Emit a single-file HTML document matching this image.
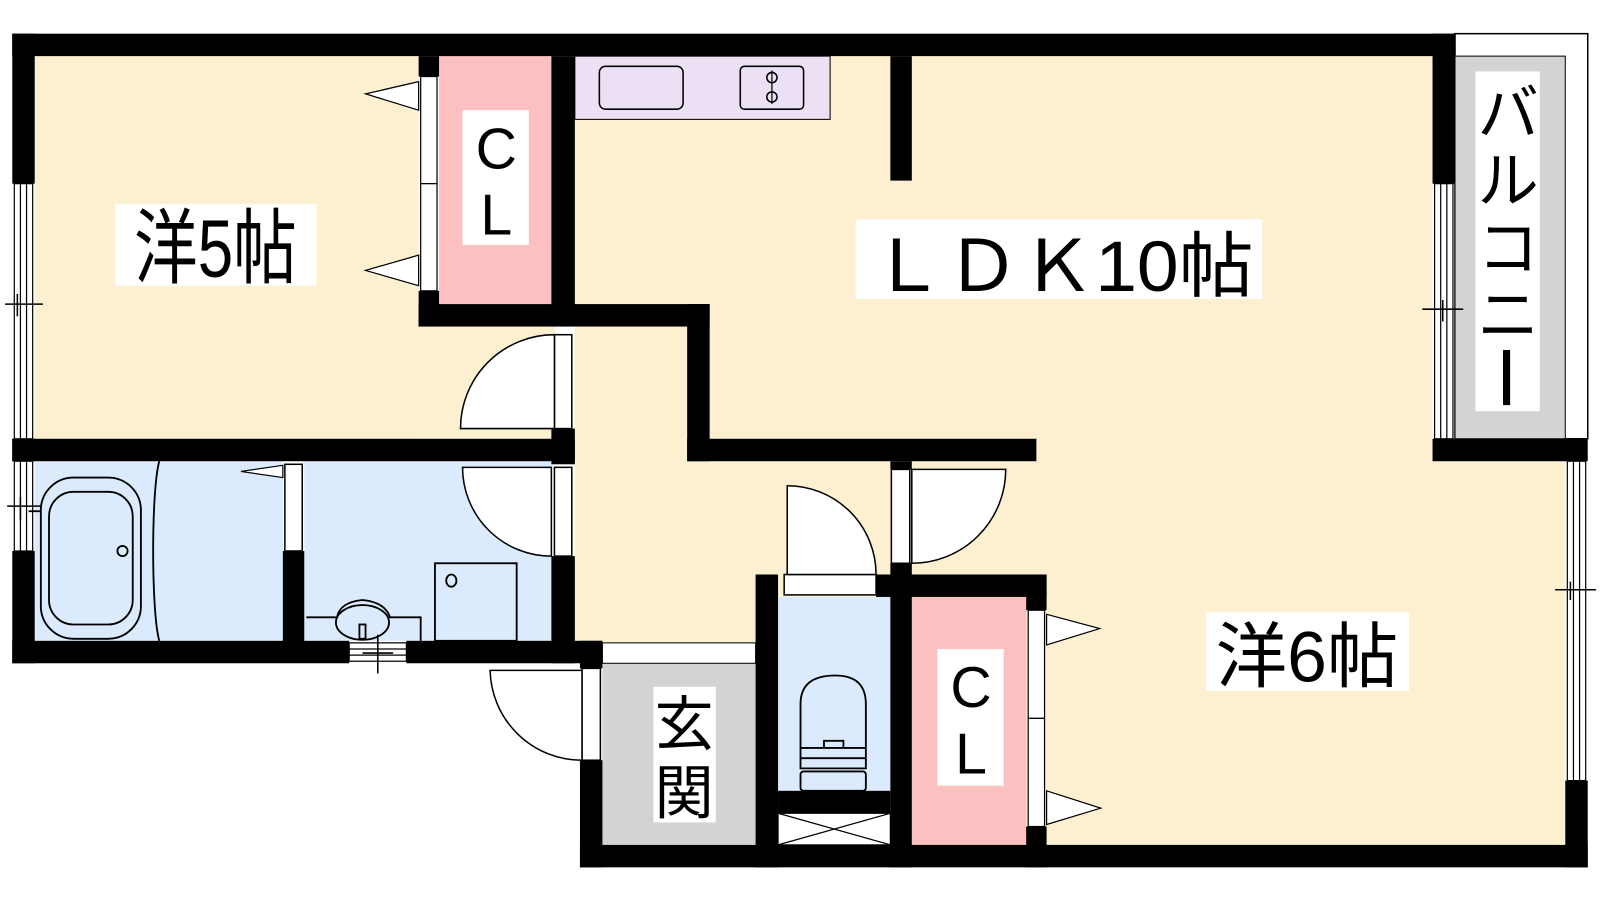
<!DOCTYPE html>
<html><head><meta charset="utf-8"><style>
html,body{margin:0;padding:0;background:#fff;}
svg{display:block;}
text{font-family:"Liberation Sans","Noto Sans CJK JP",sans-serif;fill:#000;}
</style></head><body>
<svg width="1600" height="900" viewBox="0 0 1567 882" preserveAspectRatio="none" xmlns="http://www.w3.org/2000/svg">
<rect width="1567" height="882" fill="#fff"/>
<!-- floors -->
<rect x="34" y="55" width="376" height="375" fill="#fdf0d0"/>
<rect x="34" y="310" width="510" height="120" fill="#fdf0d0"/>
<rect x="563" y="55" width="840" height="397" fill="#fdf0d0"/>
<rect x="563" y="320" width="330" height="310" fill="#fdf0d0"/>
<rect x="893" y="452" width="640" height="376" fill="#fdf0d0"/>
<rect x="430" y="55" width="110" height="243" fill="#fdc0c0"/>
<rect x="893" y="585" width="112" height="243" fill="#fdc0c0"/>
<rect x="34" y="452" width="243" height="176" fill="#dbebfd"/>
<rect x="298" y="452" width="242" height="176" fill="#dbebfd"/>
<rect x="762" y="585" width="110" height="190" fill="#dbebfd"/>
<rect x="590" y="650" width="150" height="178" fill="#d3d3d3"/>
<rect x="590" y="630" width="150" height="20" fill="#fff" stroke="#000" stroke-width="1"/>
<!-- balcony -->
<rect x="1425" y="33" width="130" height="397" fill="#fff" stroke="#000" stroke-width="1.5"/>
<rect x="1425" y="55" width="108" height="375" fill="#d3d3d3" stroke="#000" stroke-width="1"/>
<!-- kitchen -->
<rect x="563" y="55" width="250" height="62" fill="#ece0f5" stroke="#000" stroke-width="1"/>
<rect x="587" y="65" width="82" height="42" rx="6" fill="none" stroke="#000" stroke-width="1.5"/>
<rect x="725" y="65" width="62" height="42" rx="4" fill="none" stroke="#000" stroke-width="1.5"/>
<circle cx="756" cy="76" r="5" fill="none" stroke="#000" stroke-width="1.5"/>
<circle cx="756" cy="95" r="5" fill="none" stroke="#000" stroke-width="1.5"/>
<line x1="756" y1="69" x2="756" y2="102" stroke="#000" stroke-width="1.2"/>
<!-- walls -->
<g fill="#000">
<rect x="12" y="33" width="1413" height="22"/>
<rect x="12" y="33" width="22" height="147"/>
<rect x="12" y="430" width="22" height="22"/>
<rect x="12" y="540" width="22" height="110"/>
<rect x="12" y="628" width="330" height="22"/>
<rect x="398" y="628" width="192" height="22"/>
<rect x="568" y="628" width="22" height="27"/>
<rect x="568" y="745" width="22" height="105"/>
<rect x="568" y="828" width="987" height="22"/>
<rect x="1533" y="765" width="22" height="85"/>
<rect x="1403" y="33" width="22" height="147"/>
<rect x="1403" y="430" width="152" height="22"/>
<rect x="410" y="55" width="20" height="20"/>
<rect x="410" y="285" width="20" height="35"/>
<rect x="410" y="298" width="285" height="22"/>
<rect x="540" y="55" width="23" height="265"/>
<rect x="540" y="420" width="23" height="35"/>
<rect x="12" y="430" width="551" height="22"/>
<rect x="540" y="545" width="23" height="105"/>
<rect x="673" y="298" width="22" height="154"/>
<rect x="673" y="430" width="342" height="22"/>
<rect x="872" y="55" width="21" height="122"/>
<rect x="277" y="540" width="21" height="90"/>
<rect x="740" y="563" width="22" height="287"/>
<rect x="858" y="563" width="167" height="22"/>
<rect x="872" y="452" width="21" height="8"/>
<rect x="872" y="552" width="21" height="298"/>
<rect x="1005" y="563" width="20" height="35"/>
<rect x="1005" y="810" width="20" height="40"/>
<rect x="762" y="775" width="110" height="22"/>
</g>
<!-- windows -->
<g fill="#fff" stroke="#000" stroke-width="1.2">
<rect x="14" y="180" width="18" height="250"/>
<line x1="20" y1="180" x2="20" y2="430"/><line x1="26" y1="180" x2="26" y2="430"/>
<rect x="14" y="452" width="18" height="88"/>
<line x1="20" y1="452" x2="20" y2="540"/><line x1="26" y1="452" x2="26" y2="540"/>
<rect x="1405" y="180" width="18" height="250"/>
<line x1="1411" y1="180" x2="1411" y2="430"/><line x1="1417" y1="180" x2="1417" y2="430"/>
<rect x="1535" y="452" width="18" height="313"/>
<line x1="1541" y1="452" x2="1541" y2="765"/><line x1="1547" y1="452" x2="1547" y2="765"/>
<rect x="342" y="630" width="56" height="18"/>
<line x1="342" y1="636" x2="398" y2="636"/><line x1="342" y1="642" x2="398" y2="642"/>
</g>
<g stroke="#000" stroke-width="1.5">
<line x1="5" y1="298" x2="42" y2="298"/><line x1="17" y1="288" x2="17" y2="310"/>
<line x1="7" y1="496" x2="40" y2="496"/><line x1="20" y1="487" x2="20" y2="510"/>
<line x1="1393" y1="303" x2="1433" y2="303"/><line x1="1413" y1="294" x2="1413" y2="315"/>
<line x1="1523" y1="578" x2="1563" y2="578"/><line x1="1538" y1="570" x2="1538" y2="588"/>
<line x1="370" y1="622" x2="370" y2="660"/><line x1="355" y1="640" x2="385" y2="640"/>
</g>
<!-- sliding closet doors -->
<g fill="#fff" stroke="#000" stroke-width="1.2">
<rect x="412" y="75" width="16" height="105"/><rect x="412" y="180" width="16" height="105"/>
<polygon points="410,80 358,92 410,108"/><polygon points="410,250 358,265 410,280"/>
<rect x="1007" y="598" width="16" height="106"/><rect x="1007" y="704" width="16" height="106"/>
<polygon points="1025,602 1077,616 1025,632"/><polygon points="1025,775 1078,792 1025,808"/>
<polygon points="277,456 236,462 277,468"/>
</g>
<!-- doors -->
<g fill="#fff" stroke="#000" stroke-width="1.5">
<rect x="543" y="328" width="17" height="92"/>
<path d="M543,328 A92,92 0 0 0 451,420 L543,420 Z"/>
<rect x="543" y="458" width="17" height="87"/>
<path d="M540,545 A87,87 0 0 1 453,458 L540,458 Z"/>
<rect x="279" y="455" width="17" height="85"/>
<rect x="873" y="460" width="18" height="92"/>
<path d="M893,552 A92,92 0 0 0 985,460 L893,460 Z"/>
<rect x="768" y="563" width="90" height="20"/>
<path d="M771,563 L771,476 A87,87 0 0 1 858,563 Z"/>
<rect x="570" y="655" width="18" height="90"/>
<path d="M570,745 A90,90 0 0 1 480,657 L570,657 Z"/>
</g>
<!-- X box -->
<g fill="#fff" stroke="#000" stroke-width="1.2">
<rect x="762" y="797" width="110" height="31"/>
<line x1="762" y1="797" x2="872" y2="828"/><line x1="762" y1="828" x2="872" y2="797"/>
</g>
<!-- bathtub -->
<g fill="none" stroke="#000" stroke-width="1.8">
<rect x="40" y="468" width="98" height="158" rx="32"/>
<rect x="48" y="482" width="82" height="130" rx="24"/>
<circle cx="120" cy="540" r="5"/>
<path d="M156,452 C148,480 148,600 156,628"/>
<line x1="28" y1="501" x2="40" y2="501"/>
<path d="M300,605 L330,605 Q333,590 355,588 Q377,590 382,605 L412,605 L412,628"/>
<ellipse cx="355" cy="610" rx="26" ry="17"/>
<rect x="352" y="612" width="6" height="14"/>
<rect x="426" y="552" width="80" height="76"/>
<ellipse cx="442" cy="569" rx="5" ry="6"/>
<path d="M784,753 L784,690 Q784,662 818,662 Q848,662 848,690 L848,753 Z"/>
<line x1="784" y1="733" x2="848" y2="733"/>
<path d="M784,743 L848,743 M807,733 L807,726 L826,726 L826,733"/>
<rect x="784" y="756" width="64" height="19" rx="3"/>
</g>
<!-- labels -->
<rect x="113" y="200" width="197" height="80" fill="#fff"/>
<text x="211" y="271" font-size="80" text-anchor="middle" transform="translate(211,0) scale(0.78,1) translate(-211,0)">洋5帖</text>
<rect x="838" y="215" width="398" height="78" fill="#fff"/>
<text x="1040" y="285" font-size="70" text-anchor="middle" transform="translate(1040,0) scale(1.05,1) translate(-1040,0)">ＬＤＫ10帖</text>
<rect x="1181" y="600" width="199" height="77" fill="#fff"/>
<text x="1280" y="668" font-size="70" text-anchor="middle">洋6帖</text>
<rect x="453" y="108" width="65" height="132" fill="#fff"/>
<text x="486" y="165" font-size="56" text-anchor="middle">C</text>
<text x="486" y="230" font-size="56" text-anchor="middle">L</text>
<rect x="918" y="636" width="65" height="134" fill="#fff"/>
<text x="951" y="693" font-size="56" text-anchor="middle">C</text>
<text x="951" y="758" font-size="56" text-anchor="middle">L</text>
<rect x="640" y="673" width="61" height="133" fill="#fff"/>
<text x="670" y="730" font-size="58" text-anchor="middle">玄</text>
<text x="670" y="797" font-size="58" text-anchor="middle">関</text>
<rect x="1445" y="70" width="63" height="333" fill="#fff"/>
<text x="1477" y="132" font-size="60" text-anchor="middle">バ</text>
<text x="1477" y="198" font-size="60" text-anchor="middle">ル</text>
<text x="1477" y="264" font-size="60" text-anchor="middle">コ</text>
<text x="1477" y="330" font-size="60" text-anchor="middle">ニ</text>
<rect x="1472" y="343" width="7" height="54" fill="#000"/>
</svg>
</body></html>
